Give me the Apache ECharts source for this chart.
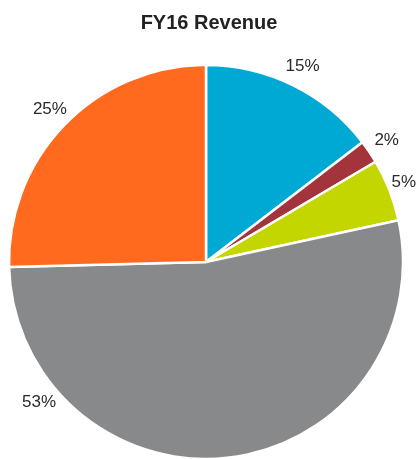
<!DOCTYPE html>
<html>
<head>
<meta charset="utf-8">
<script src="https://cdn.jsdelivr.net/npm/echarts@6/dist/echarts.min.js"></script>
<style>
  html, body { margin: 0; padding: 0; background: #fff; }
  #chart { width: 418px; height: 459px; }
</style>
</head>
<body>
<div id="chart"></div>
<script>
// slices clockwise from 12 o'clock
var segments = ['Segment A', 'Segment B', 'Segment C', 'Segment D', 'Segment E']
var shares = [14.6, 1.9, 5.1, 53.0, 25.4]
var colors = ['#00a9d4', '#a3343c', '#c4d600', '#87898b', '#ff6a1f']

var CX = 206
var CY = 262
var R = 197
var LABEL_DIST = 218

// where each label sits (degrees clockwise from top); the big slice's label is pushed to lower left
function labelAngle(idx) {
  if (idx === 3) return 230
  var total = shares.reduce(function(a, b) { return a + b }, 0)
  var before = 0
  for (var i = 0; i < idx; i++) before += shares[i]
  return (before + shares[idx] / 2) / total * 360
}

var chart = echarts.init(document.getElementById('chart'))
var W = chart.getWidth()
chart.setOption({
  animation: false,
  title: {
    text: 'FY16 Revenue',
    left: 'center',
    top: 8,
    textStyle: {
      fontFamily: 'Liberation Sans, Arial, sans-serif',
      fontWeight: 'bold',
      fontSize: 20,
      color: '#222'
    }
  },
  series: [{
    type: 'pie',
    center: [CX, CY],
    radius: R,
    startAngle: 90,
    clockwise: true,
    avoidLabelOverlap: false,
    itemStyle: {
      borderColor: '#fff',
      borderWidth: 2.5
    },
    label: {
      show: true,
      position: 'outside',
      fontFamily: 'Liberation Sans, Arial, sans-serif',
      fontSize: 17,
      color: '#2a2a2a',
      formatter: function(p) {
        return Math.round(p.value) + '%'
      }
    },
    labelLine: { show: false, length: 0, length2: 0 },
    labelLayout: function(p) {
      var a = labelAngle(p.dataIndex) * Math.PI / 180
      var x = CX + LABEL_DIST * Math.sin(a)
      // keep text inside the canvas
      var half = p.labelRect.width / 2
      x = Math.min(x, W - half - 2)
      return {
        x: x,
        y: CY - LABEL_DIST * Math.cos(a),
        align: 'center',
        verticalAlign: 'middle'
      }
    },
    emphasis: { disabled: true },
    data: segments.map(function(name, i) {
      return { name: name, value: shares[i], itemStyle: { color: colors[i] } }
    })
  }]
})
</script>
</body>
</html>
